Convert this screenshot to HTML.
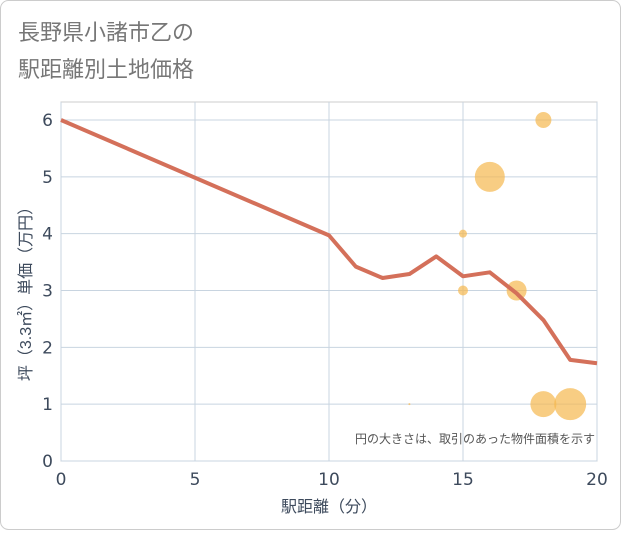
<!DOCTYPE html>
<html><head><meta charset="utf-8"><style>
body{margin:0;background:#fff;}
svg text{font-family:"Liberation Sans","Noto Sans CJK JP",sans-serif;}
svg text.num{font-family:"DejaVu Sans","Liberation Sans",sans-serif;}
</style></head><body>
<svg width="621" height="530" xmlns="http://www.w3.org/2000/svg">
<rect x="0.5" y="0.5" width="620" height="529" rx="8" fill="#fff" stroke="#ccc"/>
<text x="18" y="40" font-size="22" fill="#777">長野県小諸市乙の</text>
<text x="18" y="77" font-size="22" fill="#777">駅距離別土地価格</text>
<g id="grid"></g>
<g id="bubbles"></g>
<g id="line"></g>
<g id="axes"></g>
<text x="595" y="443" font-size="12" fill="#555" text-anchor="end">円の大きさは、取引のあった物件面積を示す</text>
<text x="329" y="512" font-size="16" fill="#3d4a5c" text-anchor="middle">駅距離（分）</text>
<text transform="translate(31,290) rotate(-90)" font-size="16" fill="#3d4a5c" text-anchor="middle">坪（3.3㎡）単価（万円）</text>
</svg>
<script>
const xTicks=[0,5,10,15,20];
const yTicks=[0,1,2,3,4,5,6];
const lineX=[0,10,11,12,13,14,15,16,17,18,19,20];
const lineY=[6,3.97,3.42,3.22,3.29,3.6,3.25,3.32,2.95,2.48,1.78,1.72];
const bubX=[18,16,15,15,17,13,18,19];
const bubY=[6,5,4,3,3,1,1,1];
const bubR=[8,15,4,5,10,1,13,16];
const X0=61,X1=597,Y0=461,Y1=120;
const sx=v=>X0+(X1-X0)*v/20, sy=v=>Y0-(Y0-Y1)*v/6;
const NS="http://www.w3.org/2000/svg";
function mk(t,a,p){const e=document.createElementNS(NS,t);for(const k in a)e.setAttribute(k,a[k]);document.getElementById(p).appendChild(e);return e;}
const bg=mk('rect',{x:X0,y:102,width:X1-X0,height:Y0-102,fill:'#fff',stroke:'#ccc'},'grid');


for(let v=0;v<=20;v++){if(v%5)continue;const l=mk('line',{x1:sx(v),x2:sx(v),y1:102,y2:Y0,stroke:'#c8d4e0'},'grid');

}
yTicks.forEach(v=>{const l=mk('line',{x1:X0,x2:X1,y1:sy(v),y2:sy(v),stroke:'#c8d4e0'},'grid');


const t=mk('text',{class:'num',x:X0-8,y:sy(v)+6,'font-size':17,fill:'#3d4a5c','text-anchor':'end'},'axes');t.textContent=v;

});
xTicks.forEach(v=>{const t=mk('text',{class:'num',x:sx(v),y:Y0+24,'font-size':17,fill:'#3d4a5c','text-anchor':'middle'},'axes');t.textContent=v;

});
bubX.forEach((x,i)=>{const c=mk('circle',{cx:sx(x),cy:sy(bubY[i]),r:bubR[i],fill:'#f5b84e',opacity:0.7},'bubbles');

});
const pts=lineX.map((x,i)=>sx(x)+','+sy(lineY[i])).join(' ');
const pl=mk('polyline',{points:pts,fill:'none',stroke:'#d4705a','stroke-width':4,'stroke-linejoin':'round'},'line');


</script>
</body></html>
